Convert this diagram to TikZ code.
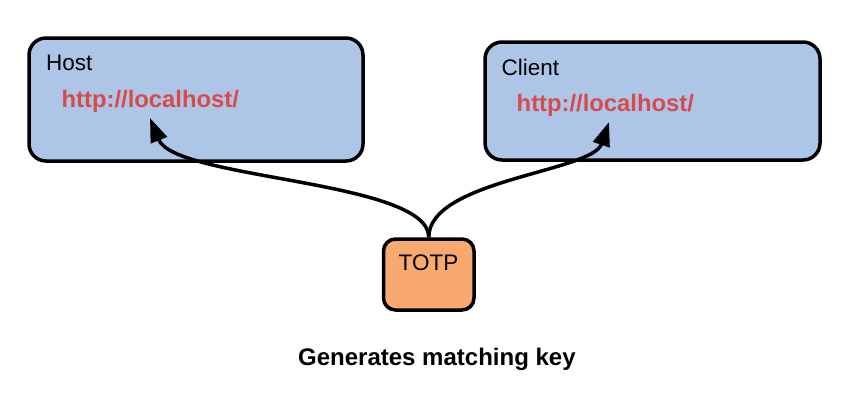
\documentclass[tikz,border=0pt]{standalone}
\usepackage{fontspec}
\setmainfont{Liberation Sans}
\usetikzlibrary{arrows.meta}
\definecolor{boxblue}{HTML}{ADC5E7}
\definecolor{boxorange}{HTML}{F8A970}
\definecolor{urlred}{HTML}{D84B4B}
\begin{document}
\begin{tikzpicture}[x=1pt, y=-1pt,
        box/.style={shape=rectangle, draw=black, line width=3.5pt, inner sep=0pt},
        txt/.style={anchor=base west, inner sep=0pt, font=\fontsize{22.5}{26}\selectfont},
        url/.style={anchor=base west, inner sep=0pt, text=urlred, font=\fontsize{23.8}{27}\selectfont\bfseries},
        link/.style={line width=3.5pt, -{Triangle[length=24pt,width=17pt]}}]
        \useasboundingbox (0,0) rectangle (850,400);

        \node[box, fill=boxblue, rounded corners=17pt, minimum width=334pt, minimum height=123pt] (host) at (196,99.5) {};
        \node[box, fill=boxblue, rounded corners=17pt, minimum width=335pt, minimum height=118pt] (client) at (652.5,101) {};
        \node[box, fill=boxorange, rounded corners=12pt, minimum width=90.5pt, minimum height=71pt] (totp) at (428.75,274.5) {};

        \node[txt] (hostlabel) at (46,70.5) {Host};
        \node[url] (hosturl) at (61.5,107.5) {http://localhost/};
        \node[txt] (clientlabel) at (501.5,75) {Client};
        \node[url] (clienturl) at (516.5,111) {http://localhost/};
        \node[txt] (totplabel) at (398.5,270) {TOTP};
        \node[txt, font=\fontsize{24}{28}\selectfont\bfseries] (caption) at (298,365) {Generates matching key};

        \coordinate (hostin) at (150,118);
        \coordinate (clientin) at (609,122);

        \draw[link] (totp.north) .. controls (428.75,180) and (175,180) .. (hostin);
        \draw[link] (totp.north) .. controls (428.75,180) and (592,172) .. (clientin);
    \end{tikzpicture}
\end{document}
